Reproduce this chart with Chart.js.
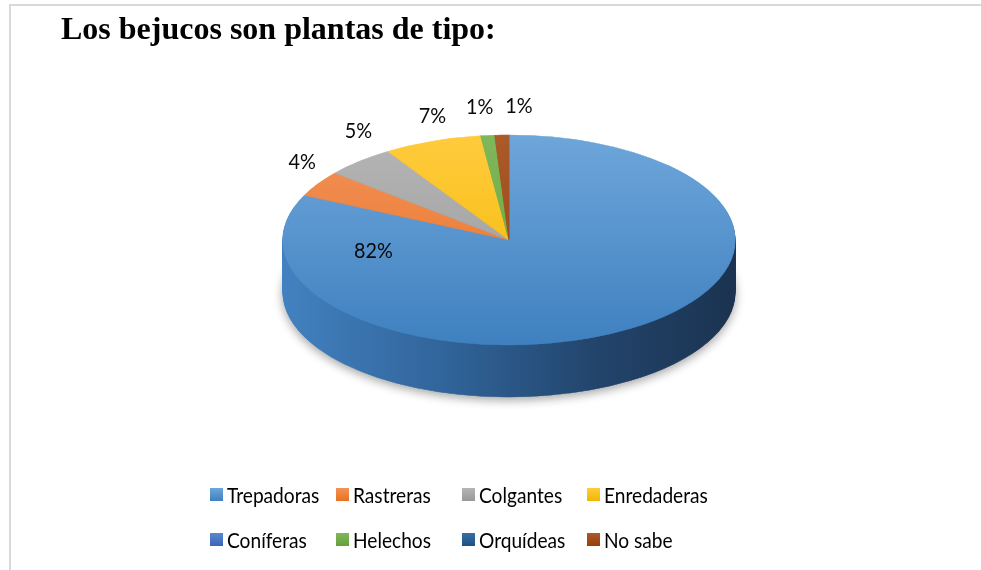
<!DOCTYPE html>
<html>
<head>
<meta charset="utf-8">
<script src="https://cdn.jsdelivr.net/npm/chart.js@4.4.0/dist/chart.umd.min.js"></script>
<style>
    html, body { margin: 0; padding: 0; background: #fff; }
    #wrap { position: relative; width: 981px; height: 570px; overflow: hidden; }
    #frame { position: absolute; left: 9px; top: 4px; width: 990px; height: 600px;
             border: 2px solid #d9d9d9; box-sizing: border-box; }
    #chart { position: absolute; left: 0; top: 0; }
    #title { position: absolute; left: 61px; top: 12px; margin: 0;
             font: bold 32px "Liberation Serif", "Times New Roman", serif; line-height: 32px; color: #000; }
    #legend { position: absolute; left: 210px; top: 472px; display: grid;
              grid-template-columns: 126px 126px 125px auto; grid-auto-rows: 45px;
              font: 22px Lato, "Open Sans", sans-serif; color: #000; }
    .item { display: flex; align-items: center; }
    .box { width: 13px; height: 13px; margin-right: 4px; flex: none; }
    .txt { display: inline-block; transform: scaleX(0.87); transform-origin: left center; white-space: nowrap; }
</style>
</head>
<body>
<div id="wrap">
    <div id="frame"></div>
    <canvas id="chart" width="981" height="570"></canvas>
    <h1 id="title">Los bejucos son plantas de tipo:</h1>
    <div id="legend"></div>
</div>
<script>
// Données du graphique (pourcentages)
const categories = ['Trepadoras', 'Rastreras', 'Colgantes', 'Enredaderas', 'Coníferas', 'Helechos', 'Orquídeas', 'No sabe'];
const percentages = [82, 4, 5, 7, 0, 1, 0, 1];

// Couleurs (haut / bas du dégradé de chaque part)
const topColors = ['#6ea6da', '#f2925a', '#b5b5b5', '#ffcb3d', '#5a86d0', '#7fb85a', '#356fa5', '#ab5a2a'];
const bottomColors = ['#3f80c0', '#e8711f', '#999999', '#f2b700', '#3a66b6', '#64a03d', '#1f5282', '#963f0a'];
const sideColors = ['#2c5b8c', '#a9531a', '#6e6e6e', '#b58800', '#2d4f8c', '#4d7a30', '#163d61', '#6b2f08'];

// Dégradé vertical pour la face supérieure
function faceGradient(c, i) {
    const area = c.chart.chartArea;
    if (!area) return bottomColors[i];
    const g = c.chart.ctx.createLinearGradient(0, area.top, 0, area.bottom);
    g.addColorStop(0, topColors[i]);
    g.addColorStop(1, bottomColors[i]);
    return g;
}

// Transformation en ellipse (effet 3D)
function squash(ctx, arc, opts, d) {
    ctx.translate(opts.cx, opts.cy + d);
    ctx.scale(opts.rx / arc.outerRadius, opts.ry / arc.outerRadius);
    ctx.translate(-arc.x, -arc.y);
}

const pie3d = {
    id: 'pie3d',
    beforeDatasetsDraw(chart, args, opts) {
        const ctx = chart.ctx;
        const meta = chart.getDatasetMeta(0);
        const ref = meta.data[0];
        // Bord latéral (dégradé horizontal)
        const side = ctx.createLinearGradient(ref.x - ref.outerRadius, 0, ref.x + ref.outerRadius, 0);
        side.addColorStop(0, '#4281c0');
        side.addColorStop(0.35, '#31659b');
        side.addColorStop(0.7, '#22446b');
        side.addColorStop(1, '#1b3350');
        for (let d = opts.depth; d >= 1; d--) {
            ctx.save();
            if (d === opts.depth) {
                ctx.shadowColor = 'rgba(0,0,0,0.35)';
                ctx.shadowBlur = 10;
                ctx.shadowOffsetY = 3;
            }
            squash(ctx, ref, opts, d);
            meta.data.forEach((arc, i) => {
                if (!arc.circumference) return;
                const fake = Object.create(arc);
                const col = i === 0 ? side : sideColors[i];
                fake.options = Object.assign({}, arc.options, { backgroundColor: col, borderColor: col, borderWidth: 1 });
                fake.draw(ctx);
            });
            ctx.restore();
        }
        ctx.save();
        squash(ctx, ref, opts, 0);
    },
    afterDatasetsDraw(chart, args, opts) {
        const ctx = chart.ctx;
        ctx.restore();
        // Étiquettes de pourcentage
        const meta = chart.getDatasetMeta(0);
        ctx.save();
        ctx.font = '22px Lato, "Open Sans", sans-serif';
        ctx.fillStyle = '#0a0a0a';
        ctx.textAlign = 'center';
        ctx.textBaseline = 'middle';
        meta.data.forEach((arc, i) => {
            const v = percentages[i];
            if (!v) return;
            const p = opts.placements[i] || {};
            const a = p.angle !== undefined ? p.angle * Math.PI / 180 : (arc.startAngle + arc.endAngle) / 2;
            const r = p.r !== undefined ? p.r : 1;
            const x = opts.cx + Math.cos(a) * opts.rx * r + (p.dx || 0);
            const y = opts.cy + Math.sin(a) * opts.ry * r + (p.dy || 0);
            ctx.save();
            ctx.translate(x, y);
            ctx.scale(0.9, 1);
            ctx.fillText(v + '%', 0, 0);
            ctx.restore();
        });
        ctx.restore();
    }
};

const chart = new Chart(document.getElementById('chart'), {
    type: 'pie',
    data: {
        labels: categories,
        datasets: [{
            data: percentages,
            backgroundColor: c => faceGradient(c, c.dataIndex),
            borderColor: c => faceGradient(c, c.dataIndex),
            borderWidth: 1,
            clip: false
        }]
    },
    options: {
        responsive: false,
        animation: false,
        events: [],
        layout: { padding: { left: 37, right: 0, top: 59, bottom: 59 } },
        plugins: {
            legend: { display: false },
            tooltip: { enabled: false },
            pie3d: {
                cx: 509, cy: 240, rx: 226, ry: 105, depth: 52,
                placements: [
                    { angle: 180, r: 0.6, dy: 11 },
                    { dx: -16, dy: -22 },
                    { dx: -1, dy: -30 },
                    { dx: 0, dy: -25 },
                    {},
                    { dx: -8, dy: -29 },
                    {},
                    { dx: 17, dy: -29 }
                ]
            }
        }
    },
    plugins: [pie3d]
});

// Légende HTML en grille
const legend = document.getElementById('legend');
categories.forEach((name, i) => {
    const item = document.createElement('div');
    item.className = 'item';
    item.innerHTML = `<span class="box" style="background:linear-gradient(${topColors[i]}, ${bottomColors[i]})"></span><span class="txt">${name}</span>`;
    legend.appendChild(item);
});
</script>
</body>
</html>
